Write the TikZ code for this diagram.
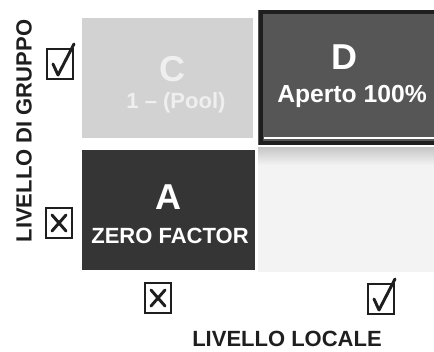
\documentclass[tikz,border=0pt]{standalone}
\usepackage{fontspec}
\setmainfont{Liberation Sans}
\usetikzlibrary{calc}
\definecolor{gridink}{HTML}{1E1E1E}
\definecolor{gridpale}{HTML}{D2D2D2}
\definecolor{gridpaletext}{HTML}{EFEFEF}
\definecolor{griddark}{HTML}{565656}
\definecolor{gridblack}{HTML}{353535}
\definecolor{gridfaint}{HTML}{F3F3F3}
\tikzset{
  axislabel/.style={font=\fontsize{16.5}{18}\selectfont\bfseries, text=gridink},
  bigletter/.style={font=\fontsize{27}{30}\selectfont\bfseries, text=white},
  subletter/.style={font=\fontsize{16.5}{18}\selectfont\bfseries, text=white},
  tickbox/.style={draw=gridink, line width=1.3pt, fill=white,
    minimum width=19pt, minimum height=22pt, inner sep=0pt},
  tickmark/.style={draw=gridink, line width=2.2pt, line cap=round, line join=round}
}
\begin{document}
\begin{tikzpicture}[x=0.75pt,y=-0.75pt]
  \useasboundingbox (0,0) rectangle (434,351);
  % Group level on the left, local level underneath.
  \fill[gridpale] (82,18) rectangle (253,138);
  \fill[griddark] (258,10) rectangle (434,145);
  \draw[gridink, line width=2.4pt] (434,12) -- (261,12) -- (261,143) -- (434,143);
  \draw[white, line width=.9pt] (264,138) -- (434,138);
  \fill[gridblack] (82,150) rectangle (255,270);
  \fill[gridfaint] (258,148) rectangle (434,272);
  \shade[top color=gray!45, bottom color=gridfaint] (258,147) rectangle (434,165);

  \node[bigletter, text=gridpaletext] (cname) at (172,69) {C};
  \node[subletter, text=gridpaletext] (ctag) at (176,103) {1 -- (Pool)};
  \node[bigletter] (dname) at (344,57) {D};
  \node[subletter, font=\fontsize{18.5}{20}\selectfont\bfseries] (dtag) at (352,96) {Aperto 100\%};
  \node[bigletter] (aname) at (168,197) {A};
  \node[subletter] (atag) at (170,236) {ZERO FACTOR};

  \node[axislabel, rotate=90] (gruppo) at (24,131) {LIVELLO DI GRUPPO};
  \node[axislabel] (locale) at (287,339) {LIVELLO LOCALE};

  \node[tickbox] (gyes) at (60,64) {};
  \draw[tickmark] ($(gyes.center)+(-7,0)$) -- ($(gyes.center)+(-2,11)$) -- ($(gyes.center)+(14,-20)$);
  \node[tickbox] (gno) at (59,223) {};
  \draw[tickmark] ($(gno.center)+(-7,-8)$) -- ($(gno.center)+(7,8)$);
  \draw[tickmark] ($(gno.center)+(7,-8)$) -- ($(gno.center)+(-7,8)$);
  \node[tickbox] (lno) at (158,298) {};
  \draw[tickmark] ($(lno.center)+(-7,-8)$) -- ($(lno.center)+(7,8)$);
  \draw[tickmark] ($(lno.center)+(7,-8)$) -- ($(lno.center)+(-7,8)$);
  \node[tickbox] (lyes) at (381,299) {};
  \draw[tickmark] ($(lyes.center)+(-7,0)$) -- ($(lyes.center)+(-2,11)$) -- ($(lyes.center)+(14,-20)$);
\end{tikzpicture}
\end{document}
